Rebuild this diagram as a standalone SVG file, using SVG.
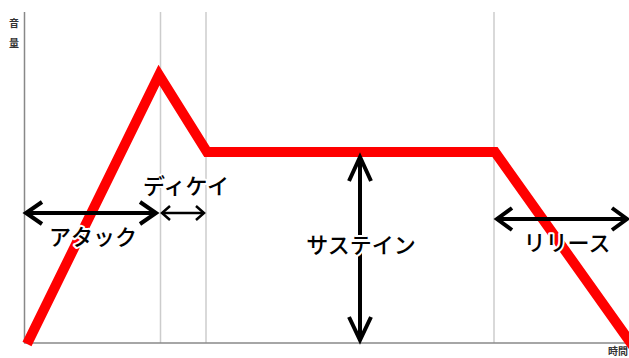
<svg xmlns="http://www.w3.org/2000/svg" width="629" height="358" viewBox="0 0 629 358">
<style>
.grid{stroke:#cccccc;stroke-width:1.5;fill:none}
.axis{stroke:#888888;stroke-width:1.5;fill:none}
.env{stroke:#ff0000;stroke-width:10;fill:none;stroke-linejoin:miter}
.arr{stroke:#000;stroke-width:4;fill:none;stroke-linecap:butt;stroke-linejoin:miter}
.arrs{stroke:#000;stroke-width:2.5;fill:none;stroke-linejoin:miter}
.lbl{font-family:"Noto Sans CJK JP","Noto Sans",sans-serif;font-size:22px;font-weight:500;fill:#000;stroke:#fff;stroke-width:4;paint-order:stroke;stroke-linejoin:round;text-anchor:middle}
.ax{font-family:"Noto Sans CJK JP","Noto Sans",sans-serif;font-size:10px;font-weight:bold;fill:#333;text-anchor:middle}
</style>
<rect width="629" height="358" fill="#fff"/>
<g id="gridlines">
<line class="grid" x1="160.5" y1="12" x2="160.5" y2="343"/>
<line class="grid" x1="206" y1="12" x2="206" y2="343"/>
<line class="grid" x1="494" y1="12" x2="494" y2="343"/>
</g>
<g id="axes">
<line class="axis" x1="24.5" y1="12" x2="24.5" y2="343"/>
<line class="axis" x1="24" y1="343" x2="629" y2="343"/>
<text class="ax" x="14" y="27">音</text>
<text class="ax" x="14" y="47">量</text>
<text class="ax" x="618" y="355">時間</text>
</g>
<g id="envelope">
<polyline class="env" points="27,344 159,75 207,152 495,152 633,346"/>
</g>
<g id="connectors">
<g id="attack-arrow">
<line class="arr" x1="26" y1="213" x2="156" y2="213"/>
<polyline class="arr" points="42,202 26,213 42,224"/>
<polyline class="arr" points="140,202 156,213 140,224"/>
</g>
<g id="decay-arrow">
<line class="arrs" x1="162" y1="213" x2="204" y2="213"/>
<polyline class="arrs" points="170,206 162,213 170,220"/>
<polyline class="arrs" points="196,206 204,213 196,220"/>
</g>
<g id="sustain-arrow">
<line class="arr" x1="360" y1="157" x2="360" y2="340"/>
<polyline class="arr" points="349,181 360,157 371,181"/>
<polyline class="arr" points="349,317 360,340 371,317"/>
</g>
<g id="release-arrow">
<line class="arr" x1="497" y1="219" x2="627" y2="219"/>
<polyline class="arr" points="512,208 497,219 512,230"/>
<polyline class="arr" points="612,208 627,219 612,230"/>
</g>
</g>
<g id="label-attack"><text class="lbl" x="93" y="245">アタック</text></g>
<g id="label-decay"><text class="lbl" x="186" y="194">ディケイ</text></g>
<g id="label-sustain"><text class="lbl" x="361" y="253">サステイン</text></g>
<g id="label-release"><text class="lbl" x="567" y="251">リリース</text></g>
</svg>
